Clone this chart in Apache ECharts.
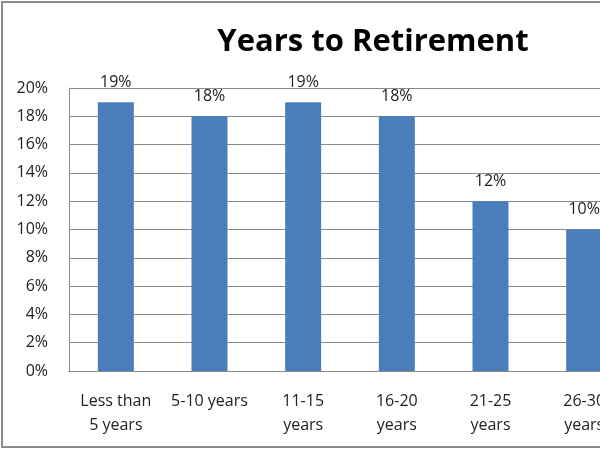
<!DOCTYPE html>
<html><head><meta charset="utf-8">
<script src="https://cdn.jsdelivr.net/npm/echarts@6/dist/echarts.min.js"></script>
<style>html,body{margin:0;padding:0;background:#fff}#c{width:600px;height:450px}</style>
</head><body><div id="c"></div>
<script>
const categories = ["Less than 5 years","5-10 years","11-15 years","16-20 years","21-25 years","26-30 years"];
const tickLabels = ["Less than\n5 years","5-10 years","11-15\nyears","16-20\nyears","21-25\nyears","26-30\nyears"];
const values = [19,18,19,18,12,10];
const yTicks = [0,2,4,6,8,10,12,14,16,18,20];

const chart = echarts.init(document.getElementById('c'));
chart.setOption({
  animation:false,
  textStyle:{fontFamily:'Open Sans'},
  title:{text:'Years to Retirement',left:368,textAlign:'center',top:22,
    textStyle:{fontFamily:'Open Sans',fontWeight:'bold',fontSize:31,color:'#000'}},
  graphic:[{type:'rect',shape:{x:2,y:2,width:700,height:445},style:{fill:'none',stroke:'#8c8c8c',lineWidth:2},silent:true}],
  grid:{left:69,width:562,top:88,bottom:79,containLabel:false,outerBoundsMode:'none'},
  xAxis:{type:'category',data:categories,
    axisLine:{show:true,lineStyle:{color:'#8a8a8a',width:1}},
    axisTick:{show:false},
    axisLabel:{interval:0,margin:18,fontSize:16,color:'#222',lineHeight:24,
      formatter:(v,i)=>tickLabels[i]}},
  yAxis:{type:'value',min:0,max:20,interval:2,
    axisLine:{show:true,lineStyle:{color:'#8a8a8a'}},
    axisTick:{show:false},
    splitLine:{lineStyle:{color:'#8a8a8a',width:1}},
    axisLabel:{fontSize:16,color:'#222',margin:21,formatter:v=>yTicks.includes(v)?v+'%':''}},
  series:[{type:'bar',data:values,barWidth:36,
    itemStyle:{color:'#4a7ebb'},
    label:{show:true,position:'top',distance:12,fontSize:16,color:'#222',formatter:p=>p.value+'%'}}]
});
</script></body></html>
